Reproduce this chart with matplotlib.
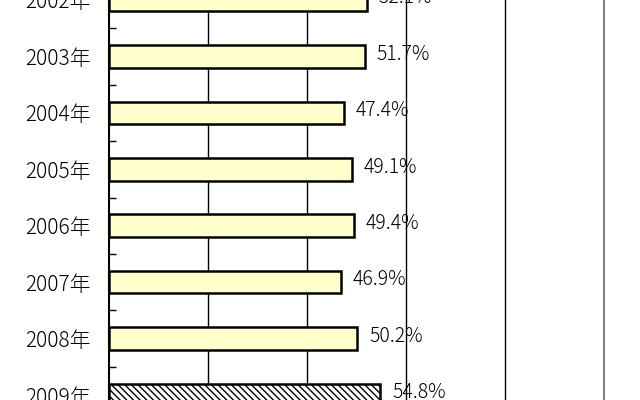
import numpy as np
import matplotlib
matplotlib.use('Agg')
import matplotlib.pyplot as plt

plt.rcParams['font.family'] = ['Noto Sans CJK JP', 'DejaVu Sans']
plt.rcParams['font.weight'] = 'light'
plt.rcParams['hatch.linewidth'] = 1.0

years = ['2002年', '2003年', '2004年', '2005年', '2006年', '2007年', '2008年', '2009年']
rates = [52.1, 51.7, 47.4, 49.1, 49.4, 46.9, 50.2, 54.8]
labels = ['52.1%', '51.7%', '47.4%', '49.1%', '49.4%', '46.9%', '50.2%', '54.8%']

fig = plt.figure(figsize=(6.4, 4.0), dpi=100)
ax = fig.add_axes([109 / 640, 0, 495 / 640, 1])

pos = np.arange(len(years))
colors = ['#ffffcc'] * (len(years) - 1) + ['white']
bars = ax.barh(pos, rates, height=0.4, color=colors, edgecolor='black',
               linewidth=1.8, zorder=3)
bars[-1].set_hatch('\\\\\\\\\\')

# value labels a little right of each bar end
for p, r, t in zip(pos, rates, labels):
    ax.text(r + 2.4, p - 0.04, t, va='center', ha='left', fontsize=14, zorder=4)

ax.set_xlim(0, 100)
ax.set_ylim(7.088, 0.07)
ax.set_xticks([20, 40, 60, 80])
ax.xaxis.grid(True, color='black', linewidth=1.0, zorder=1)
ax.tick_params(axis='x', bottom=False, labelbottom=False)

ax.set_yticks(pos)
ax.set_yticklabels(years, fontsize=15)
ax.set_yticks(pos[:-1] + 0.5, minor=True)
ax.tick_params(axis='y', which='major', length=0, pad=13)
ax.tick_params(axis='y', which='minor', length=5, direction='in', width=1)

ax.spines['top'].set_visible(False)
ax.spines['bottom'].set_visible(False)
ax.spines['left'].set_linewidth(1.5)
ax.spines['right'].set_color('#808080')
ax.spines['right'].set_linewidth(1.5)

fig.savefig('out.png', dpi=100)
